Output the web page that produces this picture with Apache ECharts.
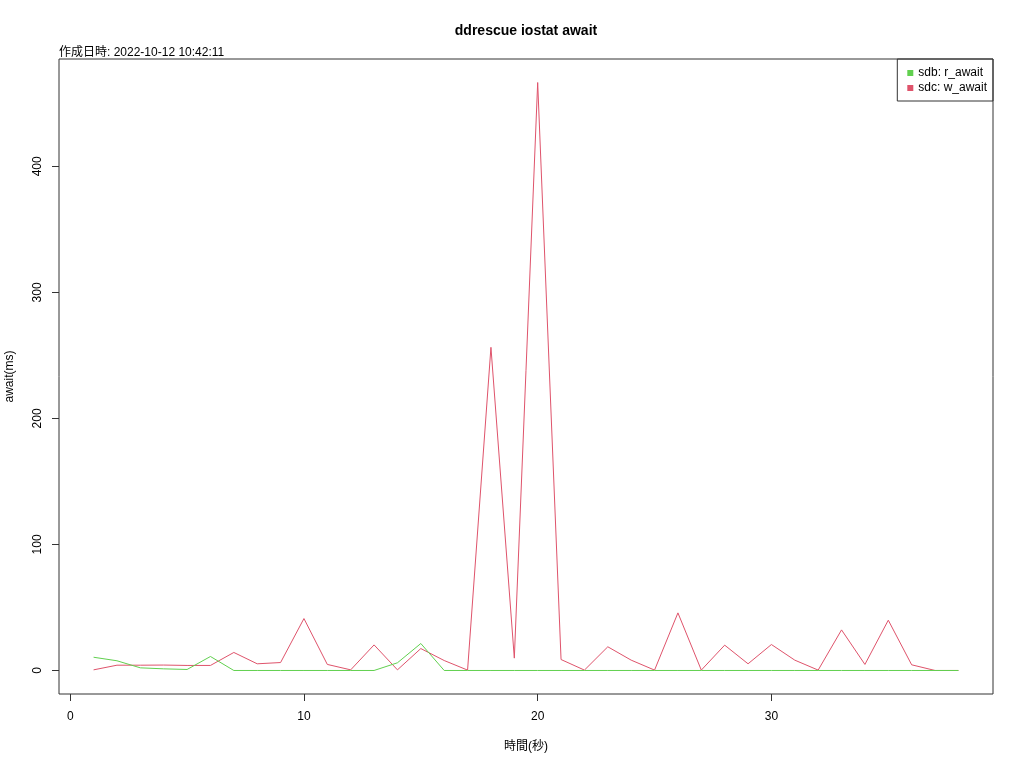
<!DOCTYPE html>
<html>
<head>
<meta charset="utf-8">
<script src="https://cdn.jsdelivr.net/npm/echarts@6/dist/echarts.min.js"></script>
<style>
html,body{margin:0;padding:0;background:#fff;}
#c{width:1024px;height:768px;}
</style>
</head>
<body>
<div id="c"></div>
<script>
const seconds = [1,2,3,4,5,6,7,8,9,10,11,12,13,14,15,16,17,18,19,20,21,22,23,24,25,26,27,28,29,30,31,32,33,34,35,36,37,38];
const sdbRAwait = [10.5,7.7,2.1,1.3,0.8,11.1,0,0,0,0,0,0,0,6.1,21.4,0,0,0,0,0,0,0,0,0,0,0,0,0,0,0,0,0,0,0,0,0,0,0];
const sdcWAwait = [0.5,4.2,4.2,4.3,4.0,4.0,14.3,5.3,6.3,41.2,4.8,0.5,20.3,0.5,17.4,7.9,0.3,256.4,9.8,466.5,8.7,0.3,18.8,8.2,0.3,45.7,0.3,20.1,5.3,20.6,8.2,0.3,32.2,4.8,39.9,4.5,0,0];
const xTicks = [0,10,20,30];
const yTicks = [0,100,200,300,400];
const seriesNames = ['sdb: r_await','sdc: w_await'];
const titleText = 'ddrescue iostat await';
const subText = '作成日時: 2022-10-12 10:42:11';
const xName = '時間(秒)';
const yName = 'await(ms)';

const FONT = '"Liberation Sans", Arial, "Noto Sans CJK JP", sans-serif';
const xmin = 1 - 0.04*(38-1), xmax = 38 + 0.04*(38-1);
const ymax0 = Math.max(...sdcWAwait, ...sdbRAwait);
const ymin = 0 - 0.04*ymax0, ymax = ymax0 + 0.04*ymax0;

const chart = echarts.init(document.getElementById('c'), null, {renderer:'canvas'});
chart.setOption({
  animation:false,
  backgroundColor:'#fff',
  textStyle:{fontFamily:FONT},
  title:[
    {text:titleText, left:526, top:24, textAlign:'center', padding:0,
     textStyle:{fontFamily:FONT, fontSize:14, fontWeight:'bold', color:'#000'}},
    {text:subText, left:59, top:47, padding:0,
     textStyle:{fontFamily:FONT, fontSize:12, fontWeight:'normal', color:'#000'}},
    {text:xName, left:526, top:741, textAlign:'center', padding:0,
     textStyle:{fontFamily:FONT, fontSize:12, fontWeight:'normal', color:'#000'}}
  ],
  legend:{
    data:seriesNames, orient:'vertical', right:31, top:59,
    borderColor:'#333', borderWidth:1, borderRadius:0,
    padding:[8,6,7,10], itemGap:3, itemWidth:6, itemHeight:6, icon:'rect',
    textStyle:{fontFamily:FONT, fontSize:12, color:'#000', padding:[0,0,0,0]}
  },
  grid:{left:59, right:31, top:59, bottom:74, show:true, borderColor:'#333', borderWidth:1, containLabel:false, outerBoundsMode:'none'},
  xAxis:{
    type:'value', min:xmin, max:xmax,
    axisLine:{show:false, onZero:false},
    splitLine:{show:false},
    axisTick:{show:true, length:7, customValues:xTicks, lineStyle:{color:'#333'}},
    axisLabel:{customValues:xTicks, margin:17, fontSize:12, color:'#000', fontFamily:FONT}
  },
  yAxis:{
    type:'value', min:ymin, max:ymax,
    name:yName, nameLocation:'middle', nameGap:43,
    nameTextStyle:{fontFamily:FONT, fontSize:12, color:'#000'},
    axisLine:{show:false, onZero:false},
    splitLine:{show:false},
    axisTick:{show:true, length:7, customValues:yTicks, lineStyle:{color:'#333'}},
    axisLabel:{customValues:yTicks, rotate:90, margin:15, fontSize:12, color:'#000', fontFamily:FONT, align:'center', verticalAlign:'bottom'}
  },
  series:[
    {name:seriesNames[1], type:'line', data:seconds.map((s,i)=>[s,sdcWAwait[i]]),
     showSymbol:false, symbol:'none', lineStyle:{width:1, color:'#DF536B'}, itemStyle:{color:'#DF536B'}, z:2},
    {name:seriesNames[0], type:'line', data:seconds.map((s,i)=>[s,sdbRAwait[i]]),
     showSymbol:false, symbol:'none', lineStyle:{width:1, color:'#61D04F'}, itemStyle:{color:'#61D04F'}, z:3}
  ]
});
</script>
</body>
</html>
